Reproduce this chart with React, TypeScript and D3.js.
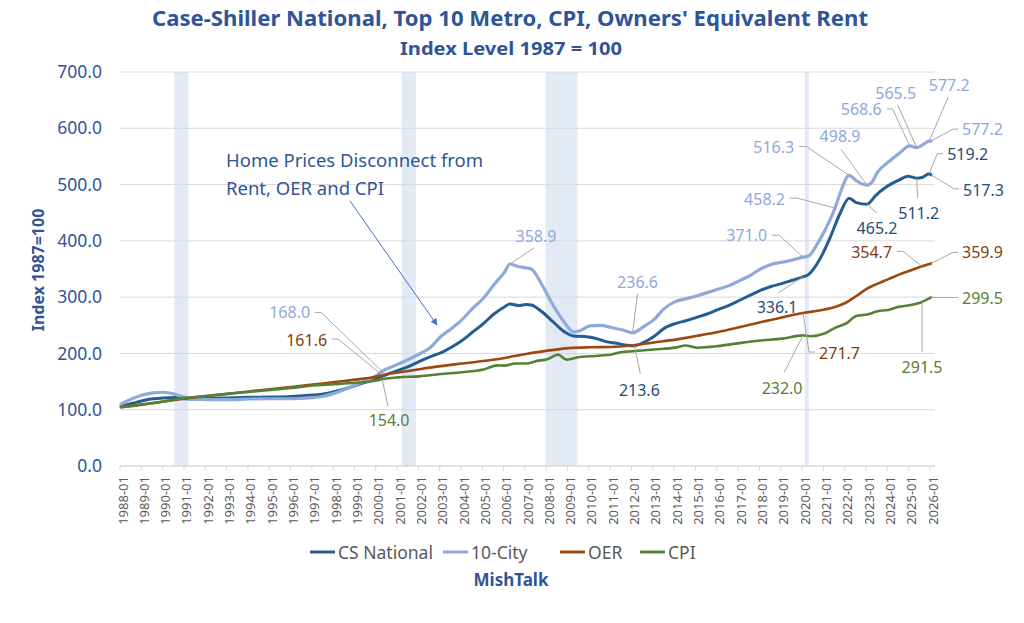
import React from "react";
import * as d3 from "d3";

// ---------- data ----------
const tickYears: number[] = d3.range(1988, 2027);
const tickLabels: string[] = tickYears.map((y) => `${y}-01`);
const yTickValues: number[] = [0, 100, 200, 300, 400, 500, 600, 700];

const seriesNames: string[] = ["CS National", "10-City", "OER", "CPI"];

const nationalData: [string, number][] = [
  ["1988-01", 106], ["1988-07", 111], ["1989-01", 116], ["1989-07", 119.5], ["1990-01", 121],
  ["1990-07", 121.5], ["1991-01", 119.5], ["1991-07", 119], ["1992-01", 120], ["1993-01", 121],
  ["1994-01", 122], ["1995-01", 122.5], ["1996-01", 123.5], ["1997-01", 126], ["1997-07", 128],
  ["1998-01", 132], ["1998-07", 137], ["1999-01", 143], ["1999-07", 149], ["2000-01", 156],
  ["2000-07", 163], ["2001-01", 170], ["2001-07", 177], ["2002-01", 186], ["2002-07", 194],
  ["2003-01", 201], ["2003-07", 211], ["2004-01", 223], ["2004-07", 238], ["2005-01", 253],
  ["2005-07", 270], ["2006-01", 283], ["2006-04", 288], ["2006-09", 285], ["2007-01", 287],
  ["2007-04", 286], ["2007-10", 274], ["2008-04", 257], ["2008-10", 240], ["2009-04", 231],
  ["2009-10", 230], ["2010-04", 227], ["2010-10", 221], ["2011-04", 218], ["2011-10", 214.5],
  ["2012-02", 213.6], ["2012-07", 219], ["2013-01", 230], ["2013-07", 245], ["2014-01", 253],
  ["2014-07", 258], ["2015-01", 264], ["2015-07", 270], ["2016-01", 278], ["2016-07", 285],
  ["2017-01", 294], ["2017-07", 303], ["2018-01", 312], ["2018-07", 319], ["2019-01", 324],
  ["2019-07", 330], ["2020-01", 336.1], ["2020-04", 340], ["2020-10", 365], ["2021-04", 404],
  ["2021-10", 450], ["2022-03", 475.5], ["2022-07", 468], ["2023-01", 465.2], ["2023-06", 481],
  ["2023-12", 496], ["2024-07", 508], ["2024-12", 515], ["2025-05", 511.2], ["2025-08", 512.5],
  ["2025-12", 519.2], ["2026-01", 517.3],
];

const cityData: [string, number][] = [
  ["1988-01", 110], ["1988-07", 119], ["1989-01", 126], ["1989-07", 130], ["1990-01", 131],
  ["1990-07", 128], ["1991-01", 122], ["1991-07", 119], ["1992-01", 118], ["1993-01", 118],
  ["1994-01", 119], ["1995-01", 119.5], ["1996-01", 119.5], ["1997-01", 121.5], ["1997-07", 124],
  ["1998-01", 129], ["1998-07", 136], ["1999-01", 144], ["1999-07", 152], ["2000-01", 161],
  ["2000-04", 168.0], ["2001-01", 181], ["2002-01", 199], ["2002-07", 210], ["2003-01", 230],
  ["2003-07", 244], ["2004-01", 260], ["2004-07", 280], ["2005-01", 298], ["2005-07", 322],
  ["2006-01", 345], ["2006-04", 358.9], ["2006-09", 354], ["2007-01", 352], ["2007-04", 350],
  ["2007-10", 322], ["2008-04", 287], ["2008-10", 258], ["2009-04", 238], ["2009-07", 240],
  ["2010-01", 249], ["2010-07", 250], ["2011-01", 246], ["2011-07", 242], ["2012-01", 236.6],
  ["2012-07", 247], ["2013-01", 260], ["2013-07", 280], ["2014-01", 292], ["2014-07", 297],
  ["2015-01", 302], ["2015-07", 308], ["2016-01", 314], ["2016-07", 320], ["2017-01", 329],
  ["2017-07", 338], ["2018-01", 350], ["2018-07", 358], ["2019-01", 362], ["2019-07", 366],
  ["2020-01", 371.0], ["2020-04", 373], ["2020-10", 400], ["2021-04", 436], ["2021-07", 458.2],
  ["2021-10", 486], ["2022-03", 516.3], ["2022-07", 507], ["2023-01", 498.9], ["2023-04", 505],
  ["2023-07", 522], ["2024-01", 540], ["2024-07", 555], ["2025-01", 568.6], ["2025-05", 565.5],
  ["2025-09", 572], ["2025-12", 577.2], ["2026-01", 577.2],
];

const oerData: [string, number][] = [
  ["1988-01", 104.5], ["1989-01", 109.5], ["1990-01", 114.5], ["1991-01", 120], ["1992-01", 124.5],
  ["1993-01", 128.5], ["1994-01", 132.5], ["1995-01", 136.5], ["1996-01", 140.5], ["1997-01", 144.5],
  ["1998-01", 149], ["1999-01", 153.5], ["2000-01", 159], ["2000-04", 161.6], ["2001-01", 166],
  ["2002-01", 172], ["2003-01", 177.5], ["2004-01", 182], ["2005-01", 186.5], ["2006-01", 192],
  ["2007-01", 199], ["2008-01", 205], ["2009-01", 209.5], ["2010-01", 211], ["2011-01", 211.5],
  ["2012-01", 214.5], ["2013-01", 219.5], ["2014-01", 224.5], ["2015-01", 231], ["2016-01", 238],
  ["2017-01", 246.5], ["2018-01", 255.5], ["2019-01", 264], ["2020-01", 271.7], ["2021-01", 278],
  ["2021-07", 282.5], ["2022-01", 290], ["2022-07", 302], ["2023-01", 315], ["2023-07", 324],
  ["2024-01", 332], ["2024-07", 340], ["2025-01", 347], ["2025-08", 354.7], ["2026-01", 359.9],
];

const cpiData: [string, number][] = [
  ["1988-01", 104.3], ["1989-01", 108.9], ["1990-01", 114.6], ["1990-10", 120.1], ["1991-01", 121.0],
  ["1992-01", 124.2], ["1993-01", 128.2], ["1994-01", 131.5], ["1995-01", 135.2], ["1996-01", 138.8],
  ["1997-01", 143.1], ["1998-01", 145.3], ["1999-01", 147.8], ["2000-01", 151.8], ["2000-04", 154.0],
  ["2001-01", 157.5], ["2002-01", 159.3], ["2003-01", 163.4], ["2004-01", 166.5], ["2005-01", 171.5],
  ["2005-09", 178.8], ["2006-01", 178.3], ["2006-07", 182.0], ["2007-01", 182.0], ["2007-07", 186.5],
  ["2008-01", 189.8], ["2008-07", 197.8], ["2008-12", 189.0], ["2009-07", 193.7], ["2010-01", 194.9],
  ["2011-01", 198.0], ["2011-07", 202.6], ["2012-01", 203.9], ["2013-01", 207.1], ["2014-01", 210.3],
  ["2014-07", 214.0], ["2015-01", 210.2], ["2016-01", 213.0], ["2017-01", 218.3], ["2018-01", 222.9],
  ["2019-01", 226.3], ["2020-01", 232.0], ["2020-05", 230.6], ["2021-01", 235.3], ["2021-07", 245.5],
  ["2022-01", 252.8], ["2022-07", 266.5], ["2023-01", 269.1], ["2023-07", 274.9], ["2024-01", 277.3],
  ["2024-07", 282.8], ["2025-01", 285.7], ["2025-08", 291.5], ["2026-01", 299.5],
];

const recessions: [string, string][] = [
  ["1990-07", "1991-03"], ["2001-03", "2001-11"], ["2007-12", "2009-06"], ["2020-02", "2020-04"],
];

// data labels: series index, date, value
const dataLabels: [number, string, number][] = [
  [1, "2000-04", 168.0], [2, "2000-04", 161.6], [3, "2000-04", 154.0],
  [1, "2006-04", 358.9], [1, "2012-01", 236.6], [0, "2012-02", 213.6],
  [1, "2020-01", 371.0], [0, "2020-01", 336.1], [2, "2020-01", 271.7], [3, "2020-01", 232.0],
  [1, "2021-07", 458.2], [1, "2022-03", 516.3], [1, "2023-01", 498.9], [0, "2023-01", 465.2],
  [1, "2025-01", 568.6], [1, "2025-05", 565.5], [1, "2025-12", 577.2], [1, "2026-01", 577.2],
  [0, "2025-12", 519.2], [0, "2026-01", 517.3], [0, "2025-05", 511.2],
  [2, "2025-08", 354.7], [2, "2026-01", 359.9], [3, "2026-01", 299.5], [3, "2025-08", 291.5],
];

// ---------- layout / style ----------
type Place = { tx: number; ty: number; anchor: string; pts: [number, number][] };
const labelPlacement: Place[] = [
  { tx: -72, ty: -59, anchor: "end", pts: [[-61, -59], [-67, -59]] },
  { tx: -55, ty: -35, anchor: "end", pts: [[-44, -36], [-50, -36]] },
  { tx: 7, ty: 41, anchor: "middle", pts: [[6, 27]] },
  { tx: 26, ty: -28, anchor: "middle", pts: [[24, -16]] },
  { tx: 5, ty: -51, anchor: "middle", pts: [[5, -39]] },
  { tx: 5, ty: 44, anchor: "middle", pts: [[6, 28]] },
  { tx: -36, ty: -22, anchor: "end", pts: [[-24, -22], [-31, -22]] },
  { tx: -26, ty: 30, anchor: "middle", pts: [[-25, 16]] },
  { tx: 16, ty: 40, anchor: "start", pts: [[6, 39], [12, 39]] },
  { tx: -21, ty: 53, anchor: "middle", pts: [[-19, 37]] },
  { tx: -50, ty: -9, anchor: "end", pts: [[-38, -10], [-45, -10]] },
  { tx: -55, ty: -28, anchor: "end", pts: [[-43, -29], [-50, -29]] },
  { tx: -27, ty: -49, anchor: "middle", pts: [[-26, -36]] },
  { tx: 10, ty: 24, anchor: "middle", pts: [[10, 9]] },
  { tx: -28, ty: -37, anchor: "end", pts: [[-17, -37], [-23, -37]] },
  { tx: -21, ty: -55, anchor: "middle", pts: [[-19, -43]] },
  { tx: 20, ty: -56, anchor: "middle", pts: [[19, -44]] },
  { tx: 31, ty: -12, anchor: "start", pts: [[22, -12], [27, -12]] },
  { tx: 18, ty: -20, anchor: "start", pts: [[8, -20], [14, -20]] },
  { tx: 32, ty: 15, anchor: "start", pts: [[23, 14], [28, 14]] },
  { tx: 2, ty: 35, anchor: "middle", pts: [[1, 20]] },
  { tx: -30, ty: -14, anchor: "end", pts: [[-19, -15], [-25, -15]] },
  { tx: 31, ty: -11, anchor: "start", pts: [[22, -11], [27, -11]] },
  { tx: 31, ty: 1, anchor: "start", pts: [[27, 0]] },
  { tx: 0, ty: 65, anchor: "middle", pts: [[0, 50]] },
];

const lineColors = ["#245E91", "#8EA9DB", "#9E480E", "#548235"];
const labelColors = ["#1F4E79", "#8EA9DB", "#843C0C", "#548235"];
const lineWidths = [3, 3.2, 2.6, 2.6];
const TITLE = "#2F5597";
const FONT = "'Noto Sans', 'Open Sans', sans-serif";

const parse = d3.timeParse("%Y-%m");

export default function App() {
  const left = 120, right = 935, top = 72, bottom = 466;
  const x = d3
    .scaleTime()
    .domain([parse("1988-01")!, parse("2026-01")!])
    .range([121, 931]);
  const y = d3.scaleLinear().domain([0, 700]).range([bottom, top]);

  const allSeries = [nationalData, cityData, oerData, cpiData];
  const line = d3
    .line<[string, number]>()
    .x((d) => x(parse(d[0])!))
    .y((d) => y(d[1]))
    .curve(d3.curveMonotoneX);

  const legendX = [310, 443, 560, 640];

  return (
    <svg
      width={1024}
      height={623}
      style={{ position: "absolute", left: 0, top: 0, background: "#fff" }}
      fontFamily={FONT}
    >
      <defs>
        <marker id="arr" viewBox="0 0 10 10" refX="9" refY="5" markerWidth="7" markerHeight="7" orient="auto">
          <path d="M0,0 L10,5 L0,10 z" fill="#4472C4" />
        </marker>
      </defs>

      {/* title */}
      <text x={510} y={26} textAnchor="middle" fontSize={22} fontWeight="bold" fill={TITLE}
        textLength={716} lengthAdjust="spacingAndGlyphs">
        Case-Shiller National, Top 10 Metro, CPI, Owners' Equivalent Rent
      </text>
      <text x={511} y={55} textAnchor="middle" fontSize={18} fontWeight="bold" fill={TITLE}
        textLength={222} lengthAdjust="spacingAndGlyphs">
        Index Level 1987 = 100
      </text>

      {/* recession bands */}
      {recessions.map(([a, b], i) => (
        <rect key={i} x={x(parse(a)!)} y={top} width={Math.max(4, x(parse(b)!) - x(parse(a)!))}
          height={bottom - top} fill="#E4EAF5" />
      ))}

      {/* gridlines */}
      {yTickValues.map((v) => (
        <g key={v}>
          <line x1={left} x2={right} y1={y(v)} y2={y(v)} stroke="#D9D9D9" strokeWidth={1} />
          <text x={102} y={y(v)} dy="0.35em" textAnchor="end" fontSize={17.5} fill="#2F5597">
            {v.toFixed(1)}
          </text>
        </g>
      ))}

      {/* x axis ticks & labels */}
      {tickYears.map((yr, i) => {
        const xp = x(new Date(yr, 0, 1));
        return (
          <g key={yr}>
            <line x1={xp - 1} x2={xp - 1} y1={bottom} y2={bottom + 5} stroke="#D9D9D9" />
            <text transform={`translate(${xp + 1.5},${476}) rotate(-90)`} textAnchor="end"
              dominantBaseline="central" fontSize={13} fill="#595959">
              {tickLabels[i]}
            </text>
          </g>
        );
      })}
      <line x1={left} x2={right} y1={bottom} y2={bottom} stroke="#D9D9D9" />

      {/* y axis title */}
      <text transform="translate(38,270) rotate(-90)" textAnchor="middle" dominantBaseline="central"
        fontSize={16} fontWeight="bold" fill={TITLE}>
        Index 1987=100
      </text>

      {/* series lines */}
      {allSeries.map((s, i) => (
        <path key={i} d={line(s) || ""} fill="none" stroke={lineColors[i]} strokeWidth={lineWidths[i]}
          strokeLinejoin="round" strokeLinecap="round" />
      ))}

      {/* data labels */}
      {dataLabels.map(([si, d, v], i) => {
        const p = labelPlacement[i];
        const px = x(parse(d)!);
        const py = y(v);
        const pts = [[px, py], ...p.pts.map(([a, b]) => [px + a, py + b])];
        return (
          <g key={i}>
            <polyline points={pts.map((q) => q.join(",")).join(" ")} fill="none" stroke="#A6A6A6" strokeWidth={1} />
            <text x={px + p.tx} y={py + p.ty} textAnchor={p.anchor} dominantBaseline="central"
              fontSize={16} fill={labelColors[si]}>
              {v.toFixed(1)}
            </text>
          </g>
        );
      })}

      {/* annotation */}
      <text x={226} y={167} fontSize={18.5} fill={TITLE}>Home Prices Disconnect from</text>
      <text x={226} y={195} fontSize={18.5} fill={TITLE}>Rent, OER and CPI</text>
      <line x1={350} y1={201} x2={437} y2={325} stroke="#4472C4" strokeWidth={1} markerEnd="url(#arr)" />

      {/* legend */}
      {seriesNames.map((n, i) => (
        <g key={n}>
          <line x1={legendX[i]} x2={legendX[i] + 25} y1={552} y2={552} stroke={lineColors[i]} strokeWidth={3} />
          <text x={legendX[i] + 28} y={552} dominantBaseline="central" fontSize={17.5} fill="#595959">{n}</text>
        </g>
      ))}
      <text x={511} y={586} textAnchor="middle" fontSize={17} fontWeight="bold" fill={TITLE}>MishTalk</text>
    </svg>
  );
}
